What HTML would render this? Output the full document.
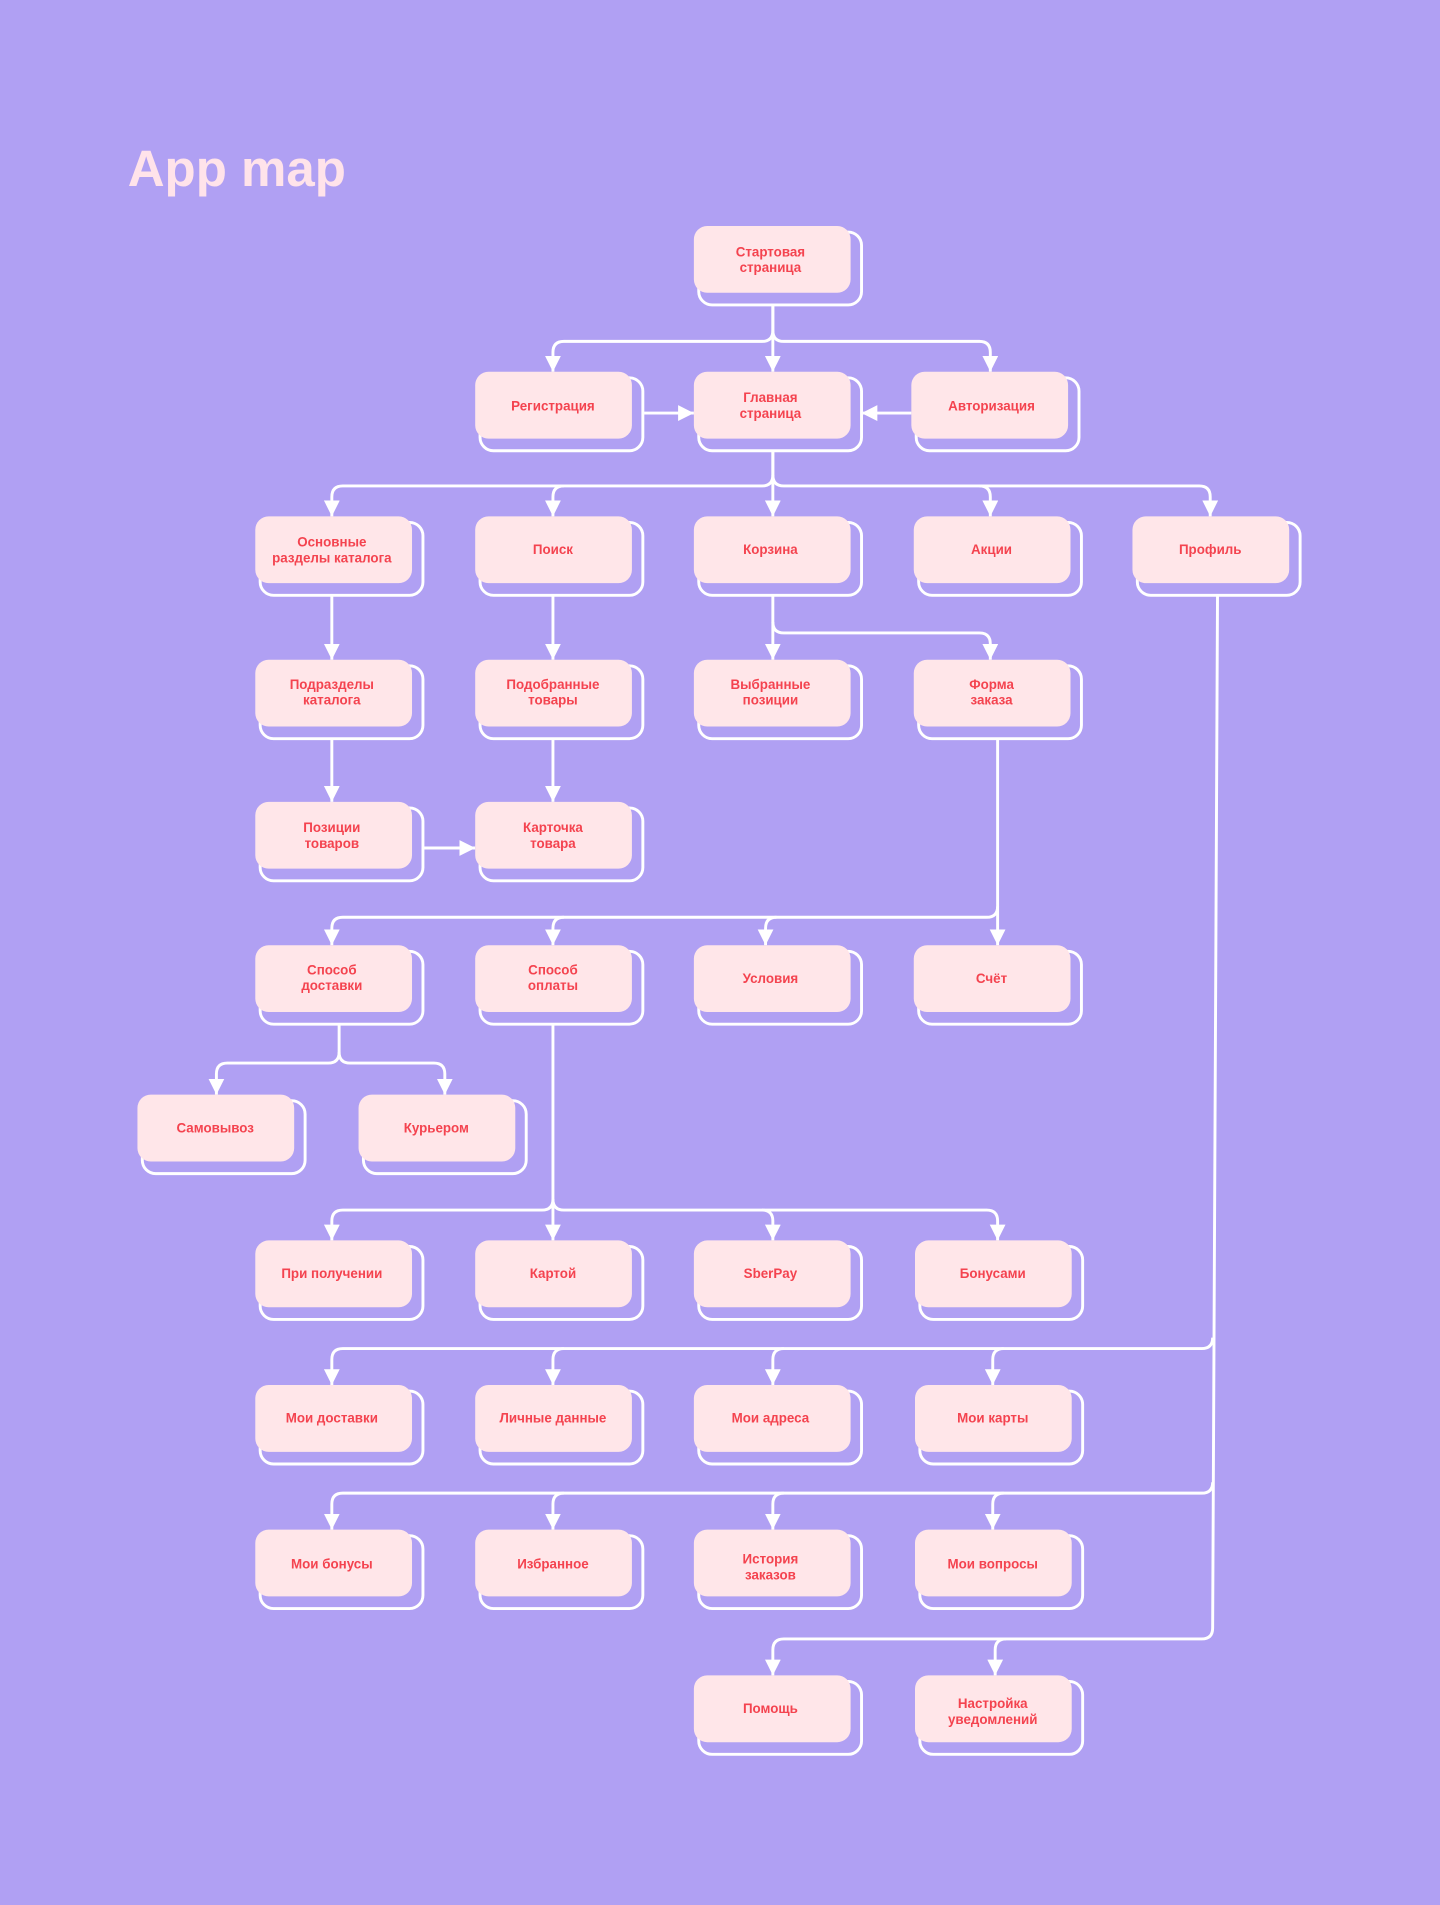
<!DOCTYPE html>
<html><head><meta charset="utf-8"><style>
html,body{margin:0;padding:0;background:#b0a0f3;}
svg{display:block}
text{font-family:"Liberation Sans",sans-serif;}
.l{font-size:11px;font-weight:bold;fill:#f4434f;text-anchor:middle}
.c{fill:none;stroke:#fff;stroke-width:2.4}
.b{fill:#b0a0f3;stroke:#fff;stroke-width:2.4}
.f{fill:#ffe6e9}
</style></head><body>
<svg width="1440" height="1905" viewBox="0 0 1185 1568" xmlns="http://www.w3.org/2000/svg">
<defs>
<marker id="a" viewBox="0 0 10 10" refX="10" refY="5" markerUnits="userSpaceOnUse" markerWidth="13" markerHeight="13" orient="auto"><path d="M0,0 L10,5 L0,10 z" fill="#fff"/></marker>
<g id="bx"><rect class="b" x="4" y="5" width="134" height="60" rx="11"/><rect class="f" x="0" y="0" width="129" height="55" rx="11"/></g>
</defs>
<rect width="1185" height="1568" fill="#b0a0f3"/>
<text x="105" y="153" style="font-size:42px;font-weight:bold;fill:#ffe3ea">App map</text>

<g marker-end="url(#a)">
<path class="c" d="M636,251 V272 Q636,281 627,281 H464 Q455,281 455,290 V306"/>
<path class="c" d="M636,251 V306"/>
<path class="c" d="M636,272 Q636,281 645,281 H806 Q815,281 815,290 V306"/>
<path class="c" d="M530,340 H571"/>
<path class="c" d="M750,340 H709"/>
<path class="c" d="M636,371 V391 Q636,400 627,400 H282 Q273,400 273,409 V425"/>
<path class="c" d="M464,400 Q455,400 455,409 V425"/>
<path class="c" d="M636,371 V425"/>
<path class="c" d="M636,391 Q636,400 645,400 H806 Q815,400 815,409 V425"/>
<path class="c" d="M806,400 H987 Q996,400 996,409 V425"/>
<path class="c" d="M273,490 V543"/>
<path class="c" d="M455,490 V543"/>
<path class="c" d="M636,490 V543"/>
<path class="c" d="M636,512 Q636,521 645,521 H806 Q815,521 815,530 V543"/>
<path class="c" d="M273,608 V660"/>
<path class="c" d="M455,608 V660"/>
<path class="c" d="M348,698 H391"/>
<path class="c" d="M821,608 V778"/>
<path class="c" d="M821,746 Q821,755 812,755 H282 Q273,755 273,764 V778"/>
<path class="c" d="M464,755 Q455,755 455,764 V778"/>
<path class="c" d="M639,755 Q630,755 630,764 V778"/>
<path class="c" d="M279,843 V866 Q279,875 270,875 H187 Q178,875 178,884 V901"/>
<path class="c" d="M279,866 Q279,875 288,875 H357 Q366,875 366,884 V901"/>
<path class="c" d="M455,843 V1021"/>
<path class="c" d="M455,987 Q455,996 446,996 H282 Q273,996 273,1005 V1021"/>
<path class="c" d="M455,987 Q455,996 464,996 H812 Q821,996 821,1005 V1021"/>
<path class="c" d="M627,996 Q636,996 636,1005 V1021"/>
<path class="c" d="M1002,490 L998,1340 Q998,1349 989,1349 H645 Q636,1349 636,1358 V1379"/>
<path class="c" d="M828,1349 Q819,1349 819,1358 V1379"/>
<path class="c" d="M998,1101 Q998,1110 989,1110 H282 Q273,1110 273,1119 V1140"/>
<path class="c" d="M464,1110 Q455,1110 455,1119 V1140"/>
<path class="c" d="M645,1110 Q636,1110 636,1119 V1140"/>
<path class="c" d="M826,1110 Q817,1110 817,1119 V1140"/>
<path class="c" d="M998,1220 Q998,1229 989,1229 H282 Q273,1229 273,1238 V1259"/>
<path class="c" d="M464,1229 Q455,1229 455,1238 V1259"/>
<path class="c" d="M645,1229 Q636,1229 636,1238 V1259"/>
<path class="c" d="M826,1229 Q817,1229 817,1238 V1259"/>
</g>

<g>
<use href="#bx" x="571" y="186"/>
<use href="#bx" x="391" y="306"/><use href="#bx" x="571" y="306"/><use href="#bx" x="750" y="306"/>
<use href="#bx" x="210" y="425"/><use href="#bx" x="391" y="425"/><use href="#bx" x="571" y="425"/><use href="#bx" x="752" y="425"/><use href="#bx" x="932" y="425"/>
<use href="#bx" x="210" y="543"/><use href="#bx" x="391" y="543"/><use href="#bx" x="571" y="543"/><use href="#bx" x="752" y="543"/>
<use href="#bx" x="210" y="660"/><use href="#bx" x="391" y="660"/>
<use href="#bx" x="210" y="778"/><use href="#bx" x="391" y="778"/><use href="#bx" x="571" y="778"/><use href="#bx" x="752" y="778"/>
<use href="#bx" x="113" y="901"/><use href="#bx" x="295" y="901"/>
<use href="#bx" x="210" y="1021"/><use href="#bx" x="391" y="1021"/><use href="#bx" x="571" y="1021"/><use href="#bx" x="753" y="1021"/>
<use href="#bx" x="210" y="1140"/><use href="#bx" x="391" y="1140"/><use href="#bx" x="571" y="1140"/><use href="#bx" x="753" y="1140"/>
<use href="#bx" x="210" y="1259"/><use href="#bx" x="391" y="1259"/><use href="#bx" x="571" y="1259"/><use href="#bx" x="753" y="1259"/>
<use href="#bx" x="571" y="1379"/><use href="#bx" x="753" y="1379"/>
</g>

<g class="l">
<text x="634" y="211">Стартовая</text><text x="634" y="224">страница</text>
<text x="455" y="338">Регистрация</text>
<text x="634" y="331">Главная</text><text x="634" y="344">страница</text>
<text x="816" y="338">Авторизация</text>
<text x="273" y="450">Основные</text><text x="273" y="463">разделы каталога</text>
<text x="455" y="456">Поиск</text>
<text x="634" y="456">Корзина</text>
<text x="816" y="456">Акции</text>
<text x="996" y="456">Профиль</text>
<text x="273" y="567">Подразделы</text><text x="273" y="580">каталога</text>
<text x="455" y="567">Подобранные</text><text x="455" y="580">товары</text>
<text x="634" y="567">Выбранные</text><text x="634" y="580">позиции</text>
<text x="816" y="567">Форма</text><text x="816" y="580">заказа</text>
<text x="273" y="685">Позиции</text><text x="273" y="698">товаров</text>
<text x="455" y="685">Карточка</text><text x="455" y="698">товара</text>
<text x="273" y="802">Способ</text><text x="273" y="815">доставки</text>
<text x="455" y="802">Способ</text><text x="455" y="815">оплаты</text>
<text x="634" y="809">Условия</text>
<text x="816" y="809">Счёт</text>
<text x="177" y="932">Самовывоз</text>
<text x="359" y="932">Курьером</text>
<text x="273" y="1052">При получении</text>
<text x="455" y="1052">Картой</text>
<text x="634" y="1052">SberPay</text>
<text x="817" y="1052">Бонусами</text>
<text x="273" y="1171">Мои доставки</text>
<text x="455" y="1171">Личные данные</text>
<text x="634" y="1171">Мои адреса</text>
<text x="817" y="1171">Мои карты</text>
<text x="273" y="1291">Мои бонусы</text>
<text x="455" y="1291">Избранное</text>
<text x="634" y="1287">История</text><text x="634" y="1300">заказов</text>
<text x="817" y="1291">Мои вопросы</text>
<text x="634" y="1410">Помощь</text>
<text x="817" y="1406">Настройка</text><text x="817" y="1419">уведомлений</text>
</g>
</svg>
</body></html>
